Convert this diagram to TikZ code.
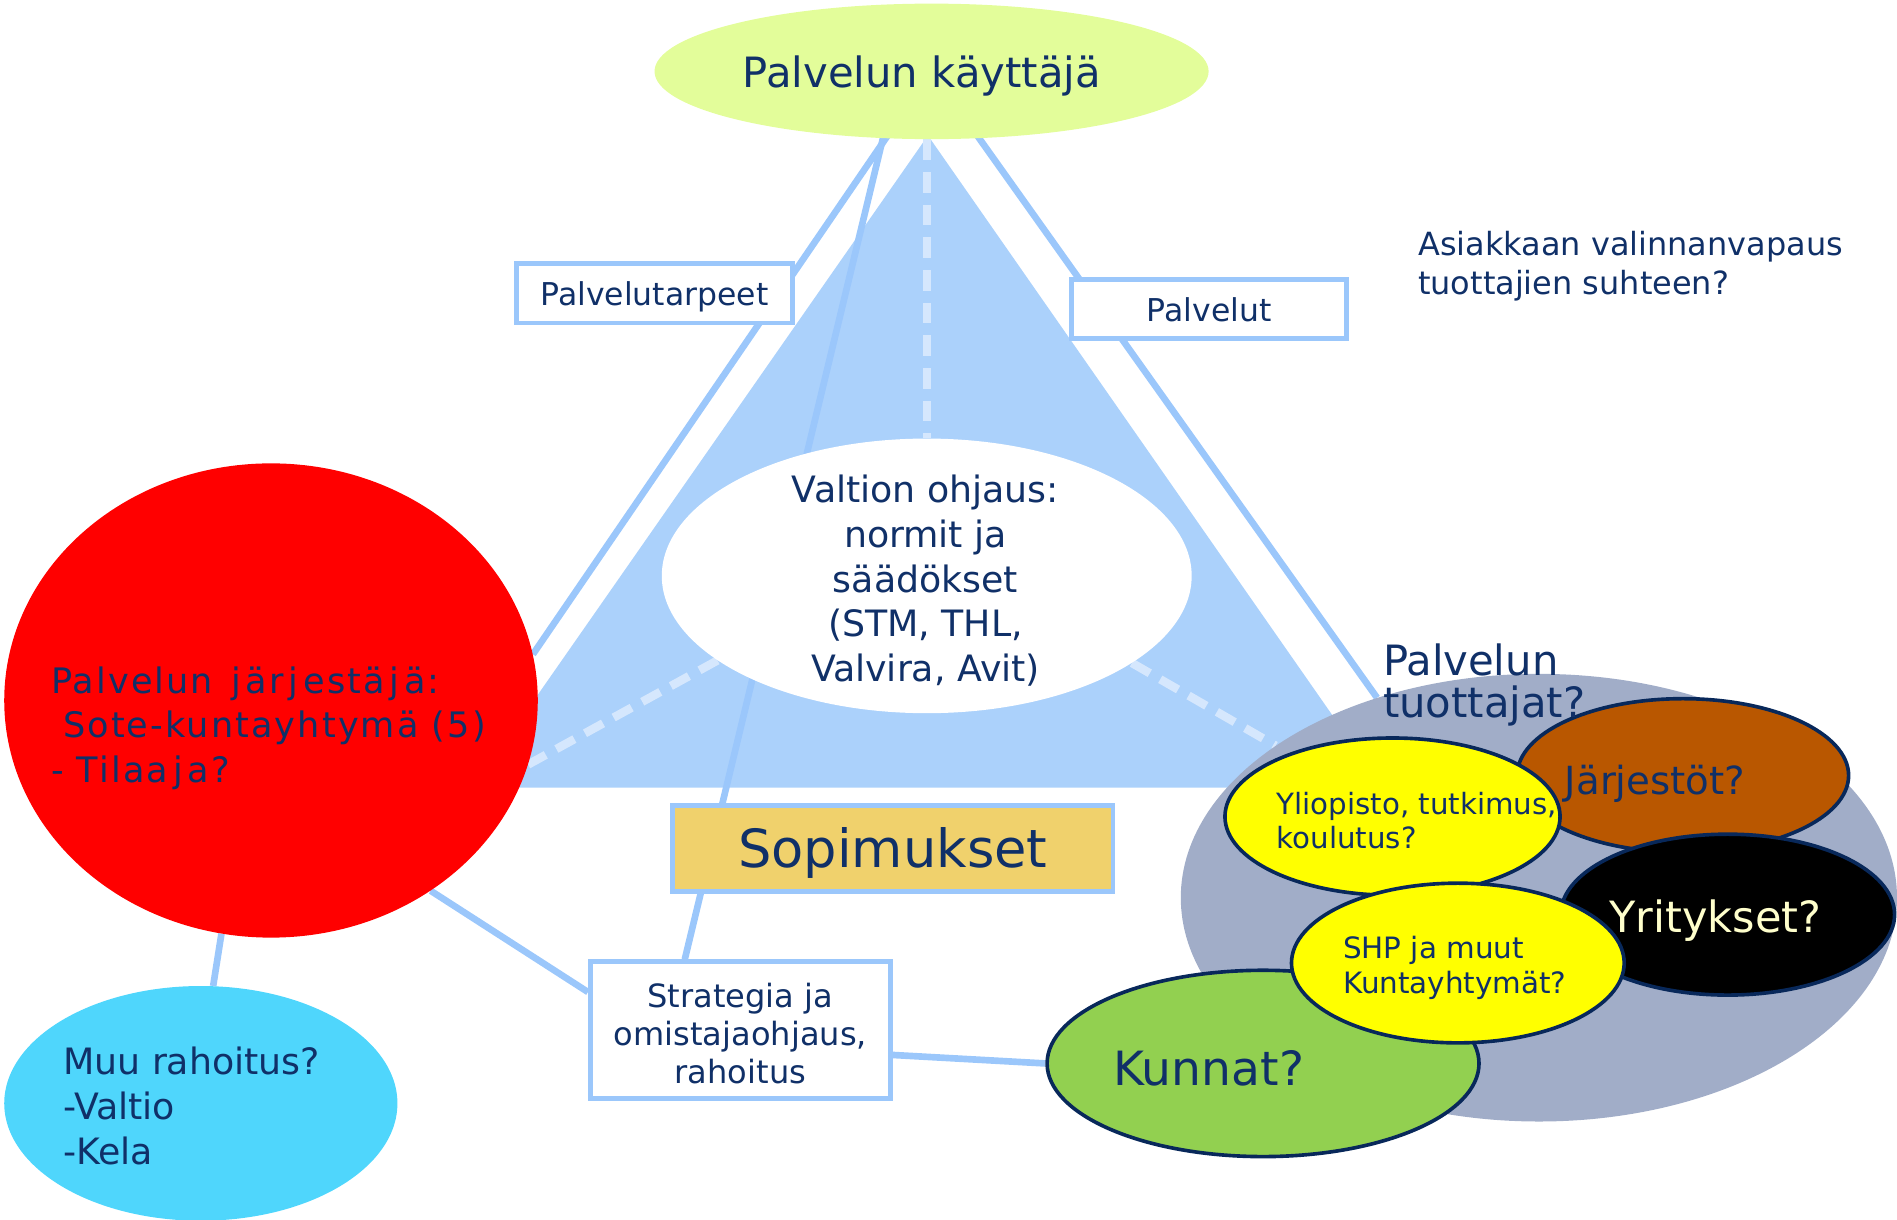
\documentclass[tikz,border=0pt]{standalone}
\usepackage{fontspec}
\setmainfont{DejaVu Sans}
\newfontfamily\vf{DejaVu Sans}
\newfontfamily\vfw[LetterSpace=6]{DejaVu Sans}
\usetikzlibrary{shapes.geometric,calc}
\pgfdeclarelayer{tri}
\pgfdeclarelayer{bg}
\pgfsetlayers{tri,bg,main}
\definecolor{topfill}{RGB}{227,253,154}
\definecolor{trifill}{RGB}{171,209,251}
\definecolor{lblue}{RGB}{155,199,251}
\definecolor{dashcol}{RGB}{213,231,253}
\definecolor{redc}{RGB}{255,0,0}
\definecolor{cyanc}{RGB}{79,214,252}
\definecolor{greyc}{RGB}{161,173,200}
\definecolor{brownc}{RGB}{185,87,0}
\definecolor{yel}{RGB}{255,255,0}
\definecolor{greenc}{RGB}{146,208,80}
\definecolor{goldc}{RGB}{240,209,108}
\definecolor{navy}{RGB}{16,48,104}
\definecolor{navyb}{RGB}{8,40,90}
\definecolor{cream}{RGB}{255,255,204}
\newcommand{\wj}{\kern4pt j\kern4pt}
\begin{document}
\begin{tikzpicture}[x=1pt,y=-1pt,
  conn/.style={draw=lblue,line width=5.5pt},
  dashc/.style={draw=dashcol,line width=7pt,dash pattern=on 17pt off 10pt},
  lbox/.style={rectangle,draw=lblue,line width=4pt,fill=white,inner sep=0pt,text=navy},
  blob/.style={ellipse,inner sep=0pt},
  oval/.style={ellipse,inner sep=0pt,draw=navyb,line width=3pt},
  txt/.style={inner sep=0pt,text=navy}]
\useasboundingbox (0,0) rectangle (1568,1008);

% main shapes
\node[blob,fill=white,minimum width=438,minimum height=227] (valt) at (766,476) {};
\node[blob,fill=topfill,minimum width=458,minimum height=112] (top) at (770,59) {};
\node[lbox,minimum width=228,minimum height=49,text height=26,text depth=6,font=\vf\fontsize{26}{31}\selectfont] (ptarp) at (541,242.5) {Palvelutarpeet};
\node[lbox,minimum width=227,minimum height=49,text height=26,text depth=6,font=\vf\fontsize{26}{31}\selectfont] (pelut) at (999.5,255.5) {Palvelut};
\node[lbox,fill=goldc,minimum width=364,minimum height=71,text height=41,text depth=10,font=\vf\fontsize{43.5}{50}\selectfont] (sop) at (738,701.5) {Sopimukset};
\node[lbox,minimum width=248,minimum height=113] (strat) at (612,851.5) {};
\node[blob,fill=redc,minimum width=441,minimum height=392] (red) at (224,579) {};
\node[blob,fill=cyanc,minimum width=325,minimum height=194] (cyan) at (166,912) {};
\node[blob,fill=greyc,minimum width=592,minimum height=370] (grey) at (1272,742) {};
\node[oval,fill=brownc,minimum width=274,minimum height=127] (jarj) at (1391,641) {};
\node[oval,fill=black,minimum width=276,minimum height=133] (yrit) at (1428,756) {};
\node[oval,fill=yel,minimum width=277,minimum height=130] (yliop) at (1151,675) {};
\node[oval,fill=greenc,minimum width=357,minimum height=154] (kunnat) at (1044,879) {};
\node[oval,fill=yel,minimum width=275,minimum height=132] (shp) at (1205,796) {};

% background triangle
\begin{pgfonlayer}{tri}
\fill[trifill] (767,112) -- (1143,651) -- (391,651) -- cycle;
\end{pgfonlayer}

% connectors
\begin{pgfonlayer}{bg}
\draw[conn] (top.center) -- (red.10);
\draw[conn] (top.center) -- (grey.129);
\draw[conn] (top.234) -- ($(strat.north)+(-46,0)$);
\draw[conn] ($(sop.west)+(0,-11.5)$) -- ($(sop.west)+(0,-11.5)$ -| red.center);
\draw[conn] ($(sop.east)+(0,-11.5)$) -- ($(sop.east)+(0,-11.5)$ -| grey.center);
\draw[conn] (red.-50) -- ($(strat.west)+(0,-31.5)$);
\draw[conn] (red.258) -- (cyan.84);
\draw[conn] ($(strat.east)+(0,20.5)$) -- (kunnat.west);
\draw[dashc] (top.south -| valt.north) -- (valt.north);
\draw[dashc] (valt.202) -- (red.-14);
\draw[dashc] (valt.-23) -- (grey.150.7);
\end{pgfonlayer}

% texts
\node[txt,font=\vf\fontsize{34.5}{40}\selectfont] (tTop) at (762,63) {Palvelun käyttäjä};
\node[txt,align=center,font=\vf\fontsize{30}{37}\selectfont] (tValt) at (765,480) {Valtion ohjaus:\\normit ja\\säädökset\\(STM, THL,\\Valvira, Avit)};
\node[txt,align=center,font=\vf\fontsize{26.5}{31.5}\selectfont] (tStrat) at (612,854) {Strategia ja\\omistajaohjaus,\\rahoitus};
\node[txt,anchor=west,align=left,font=\vf\fontsize{26.4}{32}\selectfont] (tAsi) at (1172,220) {Asiakkaan valinnanvapaus\\tuottajien suhteen?};
\node[txt,anchor=west,align=left,font=\vfw\fontsize{29}{37}\selectfont] (tRed) at (42,602) {Palvelun \wj är\wj estä\wj ä:\\\hspace*{10pt}Sote-kuntayhtymä (5)\\- Tilaa\wj a?};
\node[txt,anchor=west,align=left,font=\vf\fontsize{30}{37}\selectfont] (tMuu) at (52,914) {Muu rahoitus?\\-Valtio\\-Kela};
\node[txt,anchor=west,align=left,font=\vf\fontsize{34.5}{35}\selectfont] (tTuot) at (1143,566) {Palvelun\\tuottajat?};
\node[txt,font=\vf\fontsize{32}{38}\selectfont] (tJarj) at (1368,648) {Järjestöt?};
\node[txt,anchor=west,align=left,font=\vf\fontsize{24.2}{28}\selectfont] (tYli) at (1055,678) {Yliopisto, tutkimus,\\koulutus?};
\node[txt,text=cream,font=\vf\fontsize{35.6}{42}\selectfont] (tYrit) at (1418,761) {Yritykset?};
\node[txt,anchor=west,align=left,font=\vf\fontsize{24.3}{29}\selectfont] (tShp) at (1110,800) {SHP ja muut\\Kuntayhtymät?};
\node[txt,anchor=west,font=\vf\fontsize{39}{46}\selectfont] (tKun) at (920,883) {Kunnat?};
\end{tikzpicture}
\end{document}
